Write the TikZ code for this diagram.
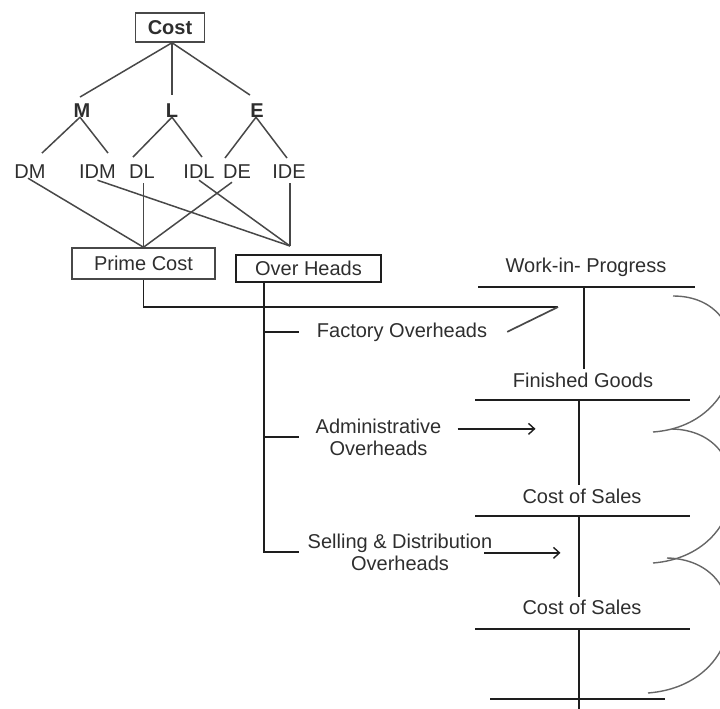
\documentclass[tikz,border=0pt]{standalone}
\usepackage{fontspec}
\setmainfont{Liberation Sans}
\usetikzlibrary{arrows.meta}
\definecolor{txt}{HTML}{2E2E2E}
\definecolor{treeline}{HTML}{484848}
\definecolor{acctline}{HTML}{1E1E1E}
\definecolor{braceline}{HTML}{666666}
\begin{document}
\begin{tikzpicture}[x=1pt,y=-1pt,
  lbl/.style={font=\fontsize{20}{22}\selectfont, text=txt, inner sep=0pt, anchor=base, align=center},
  bld/.style={lbl, font=\fontsize{20}{22}\selectfont\bfseries},
  box/.style={draw=treeline, line width=1.5pt, inner sep=0pt, text=txt, font=\fontsize{20}{22}\selectfont},
  tree/.style={draw=treeline, line width=1.5pt},
  acct/.style={draw=acctline, line width=1.7pt},
  brace/.style={draw=braceline, line width=1.4pt},
  arr/.style={draw=acctline, line width=1.4pt, -{Straight Barb[length=6pt,width=11pt]}}
]
\useasboundingbox (0,0) rectangle (720,709);

% ---- cost tree ----
\node[box, minimum width=69, minimum height=29, font=\fontsize{20}{22}\selectfont\bfseries] (cost) at (170,27.5) {Cost};
\node[bld] (M) at (82,117) {M};
\node[bld] (L) at (172,117) {L};
\node[bld] (E) at (257,117) {E};

\node[lbl] (DM)  at (30,178)  {DM};
\node[lbl] (IDM) at (97.5,178) {IDM};
\node[lbl] (DL)  at (142,178) {DL};
\node[lbl] (IDL) at (199,178) {IDL};
\node[lbl] (DE)  at (237,178) {DE};
\node[lbl] (IDE) at (289,178) {IDE};

\coordinate (ctop) at ([xshift=2pt]cost.south);
\draw[tree] (ctop) -- ([shift={(-2pt,6pt)}]M.north);
\draw[tree] (ctop) -- ([yshift=8pt]L.north);
\draw[tree] (ctop) -- ([shift={(-7pt,8pt)}]E.north);

\draw[tree] ([xshift=-2pt]M.south) -- ([shift={(12pt,11pt)}]DM.north);
\draw[tree] ([xshift=-2pt]M.south) -- ([shift={(10.5pt,11pt)}]IDM.north);
\draw[tree] (L.south) -- ([shift={(-9pt,7pt)}]DL.north);
\draw[tree] (L.south) -- ([shift={(3pt,7pt)}]IDL.north);
\draw[tree] ([xshift=-1pt]E.south) -- ([shift={(-12pt,6pt)}]DE.north);
\draw[tree] ([xshift=-1pt]E.south) -- ([shift={(-2pt,6pt)}]IDE.north);

% ---- prime cost and overheads ----
\node[box, minimum width=143, minimum height=31] (pc) at (143.5,263.5) {Prime Cost};
\node[box, line width=2pt, draw=acctline, minimum width=145, minimum height=27] (oh) at (308.5,268.5) {Over Heads};
\coordinate (ohin) at ([shift={(-18.5pt,8pt)}]oh.north);

\draw[tree] ([xshift=-2pt]DM.south) -- (pc.north);
\draw[tree] ([yshift=-2pt]IDM.south) -- (ohin);
\draw[tree] ([yshift=-5pt]pc.north |- DL.south) -- (pc.north);
\draw[tree] ([yshift=-2pt]IDL.south) -- (ohin);
\draw[tree] ([shift={(-5pt,-4pt)}]DE.south) -- (pc.north);
\draw[tree] ([yshift=-5pt]ohin |- IDE.south) -- (ohin);

% ---- overhead branches ----
\node[lbl] (fo)  at (402,337) {Factory Overheads};
\node[lbl] (adm) at (378.5,455) {Administrative\\Overheads};
\node[lbl] (sd)  at (400,570) {Selling \& Distribution\\Overheads};

\coordinate (trunk) at ([xshift=29pt]oh.south west);
\draw[acct, line width=1.5pt] (trunk) -- (trunk |- sd.west) -- ++(35,0);
\draw[acct, line width=1.5pt] (trunk |- fo.west) -- ++(35,0);
\draw[acct, line width=1.5pt] (trunk |- adm.west) -- ++(35,0);

% ---- accounts ----
\node[lbl] (wip) at (586,272) {Work-in- Progress};
\node[lbl] (fg)  at (583,387) {Finished Goods};
\node[lbl] (cs1) at (582,503) {Cost of Sales};
\node[lbl] (cs2) at (582,614) {Cost of Sales};

\coordinate (r1l) at (478,287); \coordinate (r1r) at (695,287);
\coordinate (r2l) at (475,400); \coordinate (r2r) at (690,400);
\coordinate (r3l) at (475,516); \coordinate (r3r) at (690,516);
\coordinate (r4l) at (475,629); \coordinate (r4r) at (690,629);
\coordinate (r5l) at (490,699); \coordinate (r5r) at (665,699);
\foreach \r in {1,...,5} \draw[acct] (r\r l) -- (r\r r);

\coordinate (v1) at (584,287);
\coordinate (v2) at (579,400);
\coordinate (v3) at (579,516);
\coordinate (v4) at (579,629);
\coordinate (bottom) at (579,709);
\draw[acct, line width=2.5pt] (v1) -- ([yshift=3pt]v1 |- fg.north);
\draw[acct] (v2) -- ([yshift=3pt]v2 |- cs1.north);
\draw[acct] (v3) -- ([yshift=2pt]v3 |- cs2.north);
\draw[acct] (v4) -- (bottom);

% prime cost into work-in-progress, joined by factory overheads
\coordinate (jn) at (558,307);
\draw[acct, line width=1.5pt] (pc.south) |- (jn);
\draw[tree, line width=1.7pt] ([xshift=20pt]fo.east) -- (jn);

% admin and selling overheads
\draw[arr] ([shift={(16pt,8pt)}]adm.east) -- ++(78,0);
\draw[arr] ([shift={(-8pt,-1pt)}]sd.east) -- ++(76,0);

% ---- braces on the right ----
\begin{scope}
\clip (0,0) rectangle (720,709);
\draw[brace] (673,296) .. controls (760,296) and (752,425) .. (653,432);
\draw[brace] (672,429) .. controls (758,431) and (752,555) .. (653,563);
\draw[brace] (667,558) .. controls (756,560) and (750,685) .. (648,693);
\end{scope}
\end{tikzpicture}
\end{document}
